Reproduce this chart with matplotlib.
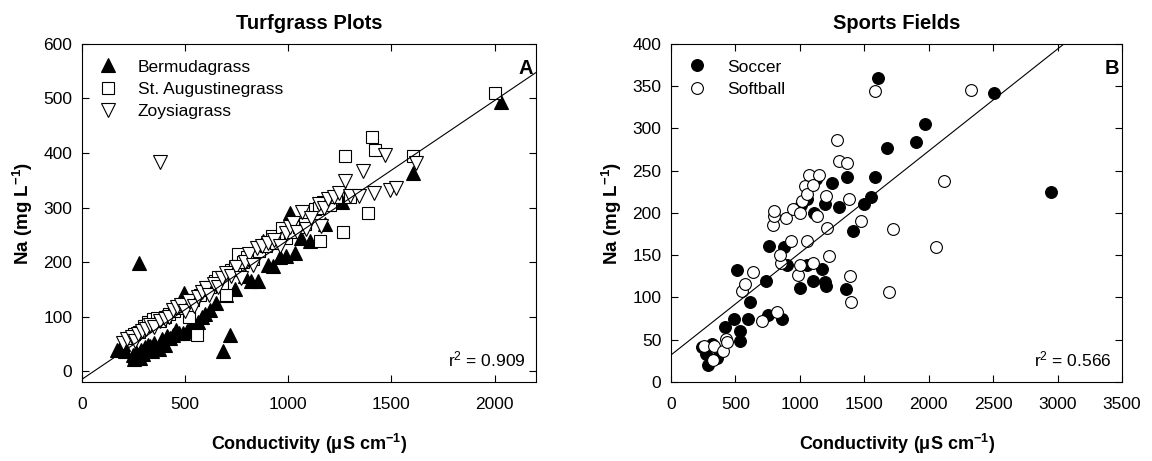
import matplotlib
matplotlib.use("Agg")
import matplotlib.pyplot as plt
import numpy as np

plt.rcParams['font.family'] = ['Liberation Sans', 'DejaVu Sans']
plt.rcParams['mathtext.fontset'] = 'custom'
plt.rcParams['mathtext.rm'] = 'Liberation Sans'
plt.rcParams['mathtext.it'] = 'Liberation Sans:italic'
plt.rcParams['mathtext.bf'] = 'Liberation Sans:bold'

# ---- Panel A: turfgrass plots (conductivity uS/cm, Na mg/L) ----
berm_x = [170, 185, 200, 210, 245, 250, 255, 262, 270, 276, 280, 288, 295, 305, 312, 320,
          330, 340, 350, 362, 375, 390, 400, 410, 425, 440, 455, 470, 491, 495, 510, 515,
          540, 560, 580, 596, 620, 650, 684, 700, 717, 740, 790, 820, 854, 878, 900, 927,
          960, 990, 1007, 1032, 1060, 1104, 1177, 1258, 1606, 2030]
berm_y = [38, 42, 50, 36, 30, 22, 26, 35, 30, 199, 24, 38, 32, 44, 40, 48,
          46, 36, 52, 43, 40, 58, 47, 64, 60, 66, 75, 70, 70, 144, 74, 73,
          88, 90, 100, 104, 112, 125, 37, 140, 67, 150, 175, 165, 165, 238, 195, 192,
          210, 212, 290, 217, 245, 238, 269, 311, 364, 494]

aug_x = [230, 250, 275, 300, 320, 345, 362, 380, 400, 420, 445, 470, 490, 520, 540, 555,
         570, 600, 620, 645, 660, 680, 700, 720, 740, 757, 780, 800, 830, 860, 890, 919,
         940, 967, 990, 1010, 1050, 1080, 1130, 1150, 1153, 1170, 1200, 1230, 1266, 1273,
         1300, 1387, 1406, 1419, 1602, 2002]
aug_y = [60, 68, 72, 82, 90, 95, 98, 92, 100, 105, 110, 115, 120, 100, 130, 66,
         140, 148, 155, 165, 172, 160, 140, 185, 190, 214, 200, 210, 205, 220, 230, 247,
         235, 263, 245, 255, 265, 270, 297, 300, 238, 310, 305, 320, 256, 394,
         320, 290, 430, 406, 394, 510]

zoy_x = [200, 220, 240, 255, 270, 290, 310, 330, 350, 377, 380, 400, 420, 440, 460, 480,
         500, 520, 545, 560, 580, 600, 615, 640, 660, 680, 700, 720, 745, 770, 790, 810,
         830, 850, 870, 900, 930, 960, 988, 1010, 1024, 1040, 1068, 1086, 1110, 1148, 1157,
         1175, 1193, 1220, 1246, 1273, 1300, 1344, 1362, 1415, 1469, 1495, 1522, 1620]
zoy_y = [52, 58, 62, 55, 68, 74, 78, 85, 80, 383, 92, 95, 100, 112, 118, 122,
         110, 128, 120, 135, 145, 152, 140, 160, 155, 170, 180, 175, 190, 170, 200, 215,
         195, 225, 230, 235, 240, 230, 254, 265, 272, 255, 291, 260, 280, 306, 266,
         300, 315, 320, 327, 349, 322, 322, 367, 327, 397, 333, 336, 382]

fit_a = (0.2557, -15.0)    # slope, intercept
r2_a = 0.909

# ---- Panel B: sports fields ----
soc_x = [240, 274, 289, 317, 359, 416, 492, 537, 537, 515, 600, 614, 736, 761, 752, 860,
         874, 897, 1004, 1052, 1103, 1171, 1194, 1199, 1194, 1109, 1052, 1250, 1301, 1364,
         1358, 1409, 1499, 1550, 1584, 1604, 1675, 1901, 1972, 2504, 2948, 1010, 1126]
soc_y = [41, 33, 20, 45, 28, 65, 74, 60, 48, 132, 75, 95, 119, 161, 79, 74,
         160, 139, 111, 138, 119, 134, 118, 113, 211, 200, 217, 235, 207, 242,
         110, 179, 211, 219, 242, 360, 277, 284, 305, 342, 225, 210, 240]

soft_x = [255, 331, 322, 402, 430, 438, 549, 577, 637, 705, 826, 790, 798, 801, 854, 849,
          894, 928, 945, 985, 1001, 1001, 1018, 1038, 1052, 1067, 1052, 1100, 1103, 1131,
          1151, 1202, 1213, 1228, 1287, 1301, 1364, 1378, 1392, 1400, 1471, 1584, 1695,
          1726, 2057, 2116, 2325]
soft_y = [43, 43, 26, 37, 51, 47, 108, 116, 130, 72, 83, 186, 196, 202, 141, 150,
          194, 167, 205, 127, 138, 200, 214, 232, 223, 245, 167, 141, 233, 197,
          245, 220, 182, 149, 286, 262, 259, 217, 126, 95, 191, 344, 106,
          181, 160, 238, 345]

fit_b = (0.1207, 32.0)
r2_b = 0.566

fig = plt.figure(figsize=(11.52, 4.61), dpi=100)
ax_a = fig.add_axes([0.0712, 0.1714, 0.394, 0.7332])
ax_b = fig.add_axes([0.5825, 0.1714, 0.3915, 0.7332])

ms = 9.5
mew = 0.8
ax_a.plot(berm_x, berm_y, ls='none', marker='^', ms=ms, mfc='black', mec='black',
          mew=mew, label='Bermudagrass', zorder=3)
ax_a.plot(aug_x, aug_y, ls='none', marker='s', ms=ms - 1, mfc='white', mec='black',
          mew=mew, label='St. Augustinegrass', zorder=4)
ax_a.plot(zoy_x, zoy_y, ls='none', marker='v', ms=ms, mfc='white', mec='black',
          mew=mew, label='Zoysiagrass', zorder=5)
xa = np.array([0, 2200])
ax_a.plot(xa, fit_a[0] * xa + fit_a[1], color='black', lw=0.8, zorder=6)
ax_a.set_xlim(0, 2200)
ax_a.set_ylim(-20, 600)
ax_a.set_xticks([0, 500, 1000, 1500, 2000])
ax_a.set_yticks([0, 100, 200, 300, 400, 500, 600])

ax_b.plot(soc_x, soc_y, ls='none', marker='o', ms=ms - 1, mfc='black', mec='black',
          mew=mew, label='Soccer', zorder=3)
ax_b.plot(soft_x, soft_y, ls='none', marker='o', ms=ms - 1, mfc='white', mec='black',
          mew=mew, label='Softball', zorder=4)
xb = np.array([0, 3500])
ax_b.plot(xb, fit_b[0] * xb + fit_b[1], color='black', lw=0.8, zorder=6)
ax_b.set_xlim(0, 3500)
ax_b.set_ylim(0, 400)
ax_b.set_xticks(np.arange(0, 3501, 500))
ax_b.set_yticks(np.arange(0, 401, 50))

for ax, title, letter, r2 in [(ax_a, 'Turfgrass Plots', 'A', r2_a),
                              (ax_b, 'Sports Fields', 'B', r2_b)]:
    for s in ax.spines.values():
        s.set_linewidth(0.8)
    ax.tick_params(direction='in', length=5, width=0.8, top=True, right=True,
                   labelsize=12.5, pad=7)
    ax.tick_params(axis='x', pad=11)
    ax.set_title(title, fontsize=14.5, fontweight='bold', pad=11)
    ax.set_xlabel(r'Conductivity ($\mathbf{\mu}$S cm$^{\mathbf{-1}}$)', fontsize=13,
                  fontweight='bold', labelpad=14)
    ax.set_ylabel(r'Na (mg L$^{\mathbf{-1}}$)', fontsize=13.5, fontweight='bold', labelpad=6)
    ax.text(0.993, 0.955, letter, transform=ax.transAxes, ha='right', va='top',
            fontsize=14.5, fontweight='bold')
    ax.text(0.978, 0.045, r'r$^2$ = %.3f' % r2, transform=ax.transAxes, ha='right',
            va='baseline', fontsize=12.5)
    ax.legend(loc='upper left', bbox_to_anchor=(0.02, 0.975), frameon=False, fontsize=12.5,
              handlelength=1.2, handletextpad=1.1, labelspacing=0.4, borderaxespad=0)

fig.savefig('out.png', dpi=100)
